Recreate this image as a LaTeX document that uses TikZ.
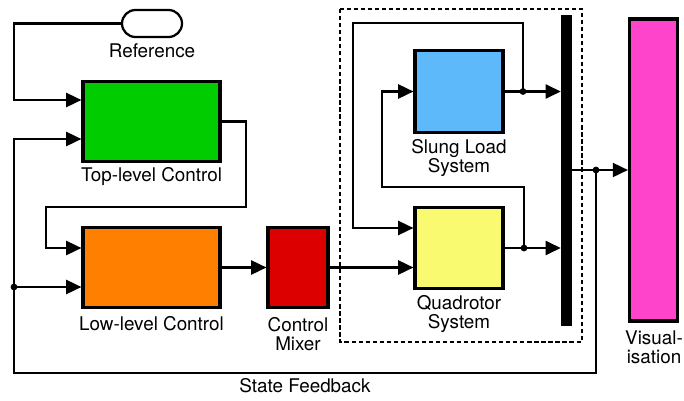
\documentclass[tikz,border=0pt]{standalone}
\usepackage{fontspec}
\setmainfont{TeX Gyre Heros}
\usepackage{tikz}
\usetikzlibrary{arrows.meta}
\usetikzlibrary{shapes.misc}

\definecolor{topgreen}{RGB}{0,204,0}
\definecolor{loworange}{RGB}{255,128,0}
\definecolor{mixred}{RGB}{221,0,0}
\definecolor{slungblue}{RGB}{94,185,250}
\definecolor{quadyellow}{RGB}{250,250,112}
\definecolor{vismagenta}{RGB}{255,68,204}

\begin{document}
\begin{tikzpicture}[x=0.025cm, y=-0.025cm,
  block/.style={draw, line width=2.2pt, inner sep=0pt},
  feed/.style={line width=1.6pt, arrows = {-Triangle[width=0.35cm, length=0.38cm]}},
  junction/.style={circle, fill, inner sep=0pt, minimum size=0.17cm},
  caption/.style={align=center, font=\fontsize{13.4}{13.6}\selectfont}]
\useasboundingbox (0, 0) rectangle (684, 401);

\node[rounded rectangle, draw, line width=1.6pt, minimum width=1.5cm, minimum height=0.675cm, inner sep=0pt] (ref) at (152, 23.5) {};
\node[block, fill=topgreen, minimum width=3.425cm, minimum height=2cm] (top_ctrl) at (151.5, 121.5) {};
\node[block, fill=loworange, minimum width=3.425cm, minimum height=2cm] (low_ctrl) at (151.5, 267.5) {};
\node[block, fill=mixred, minimum width=1.5cm, minimum height=2cm] (mixer) at (298, 267.5) {};
\node[block, fill=slungblue, minimum width=2.2cm, minimum height=2.05cm] (slung) at (459, 91.5) {};
\node[block, fill=quadyellow, minimum width=2.2cm, minimum height=2.025cm] (quad) at (459, 248) {};
\node[draw, fill=black, line width=1pt, inner sep=0pt, minimum width=0.25cm, minimum height=7.75cm] (bus) at (566.5, 170.5) {};
\node[block, fill=vismagenta, minimum width=1.2cm, minimum height=7.55cm] (vis) at (653.5, 170) {};

\node[caption] (ref_lbl) at (152, 51) {Reference};
\node[caption] (top_lbl) at (151.5, 177) {Top-level Control};
\node[caption] (low_lbl) at (151.5, 324) {Low-level Control};
\node[caption] (mixer_lbl) at (298, 334) {Control\\Mixer};
\node[caption] (slung_lbl) at (459, 158) {Slung Load\\System};
\node[caption] (quad_lbl) at (459, 314) {Quadrotor\\System};
\node[caption] (vis_lbl) at (654, 347) {Visual-\\isation};
\node[caption] (fb_lbl) at (305, 386) {State Feedback};

% plant frame
\draw[line width=1.6pt, dash pattern=on 3pt off 2pt] (340, 9) rectangle (582, 342);

\coordinate (ref_in) at (14, 100);
\coordinate (fb_left) at (14, 139);
\coordinate (fb_bottom) at (14, 373);
\coordinate (top_turn) at (246, 207);
\coordinate (low_in) at (46, 248);
\coordinate (loop_top) at (353, 23);
\coordinate (quad_in) at (353, 228);
\coordinate (loop_mid) at (382, 187);

\node[junction] (fb_junc) at (14, 287) {};
\node[junction] (vis_junc) at (596, 170) {};
\node[junction] (slung_junc) at (523, 91.5) {};
\node[junction] (quad_junc) at (524, 248) {};

% reference and controllers
\draw[feed] (ref.west) -| (ref_in) -- (top_ctrl.west |- ref_in);
\draw[feed] (top_ctrl.east) -| (top_turn) -| (low_in) -- (low_ctrl.west |- low_in);
\draw[feed] (low_ctrl.east) -- (mixer.west);
\draw[feed] (mixer.east) -- (quad.west |- mixer.east);

% plant
\draw[feed] (slung.east) -- (bus.west |- slung.east);
\draw[feed] (quad.east) -- (bus.west |- quad.east);
\draw[feed] (slung_junc.center) |- (loop_top) -- (quad_in) -- (quad.west |- quad_in);
\draw[feed] (quad_junc.center) |- (loop_mid) -- (slung.west -| loop_mid) -- (slung.west);

% output and feedback
\draw[feed] (bus.east |- vis.west) -- (vis.west);
\draw[feed] (vis_junc.center) |- (fb_bottom) -- (fb_left) -- (top_ctrl.west |- fb_left);
\draw[feed] (fb_junc.center) -- (low_ctrl.west |- fb_junc);
\end{tikzpicture}
\end{document}
